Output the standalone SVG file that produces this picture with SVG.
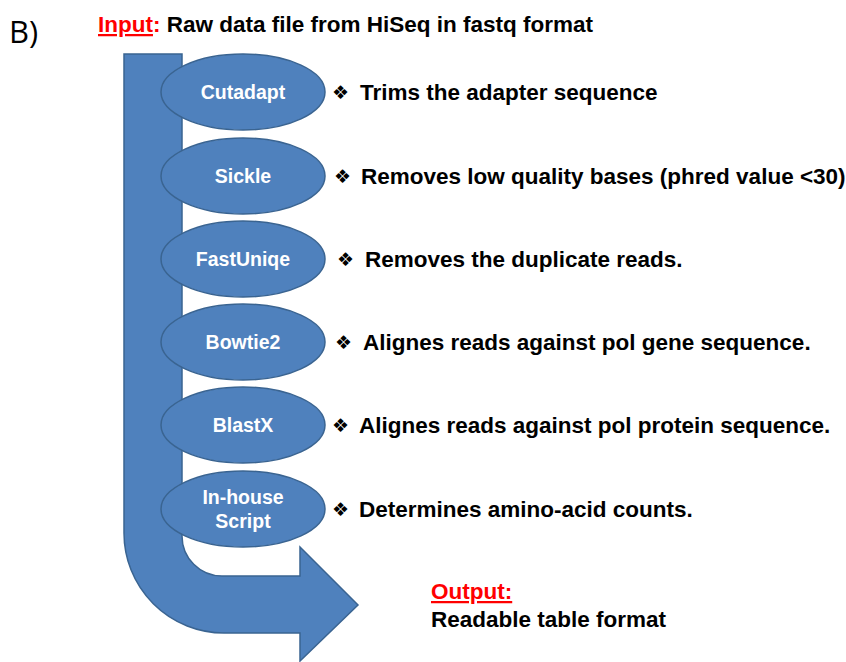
<svg xmlns="http://www.w3.org/2000/svg" width="846" height="662" viewBox="0 0 846 662">
<style>
.shape{fill:#4F81BD;stroke:#3A6491;stroke-width:1.5}
.nl{font-family:"Liberation Sans",Arial,sans-serif;font-weight:bold;font-size:19.5px;fill:#fff;text-anchor:middle}
.desc{font-family:"Liberation Sans",Arial,sans-serif;font-weight:bold;font-size:22.5px;fill:#000}
.bul{font-family:"DejaVu Sans",sans-serif;font-size:19px;fill:#000}
.red{fill:#FF0000;text-decoration:underline}
</style>
<rect width="846" height="662" fill="#fff"/>
<text x="9" y="43" font-family="Open Sans, Liberation Sans, sans-serif" font-size="31" fill="#000">B)</text>
<text x="98" y="32" class="desc"><tspan class="red">Input</tspan><tspan fill="#FF0000">:</tspan> Raw data file from HiSeq in fastq format</text>
<g id="flow-arrow">
<path class="shape" d="M124,54 H182 V536 A40,40 0 0 0 222,576 H300 V547 L358,605 L300,661 V633 H224 A100,100 0 0 1 124,533 Z"/>
</g>
<g id="cutadapt"><ellipse class="shape" cx="243" cy="92" rx="82" ry="38"/><text class="nl" x="243" y="99">Cutadapt</text></g>
<g id="sickle"><ellipse class="shape" cx="243" cy="176" rx="82" ry="38"/><text class="nl" x="243" y="183">Sickle</text></g>
<g id="fastuniqe"><ellipse class="shape" cx="243" cy="259" rx="82" ry="38"/><text class="nl" x="243" y="266">FastUniqe</text></g>
<g id="bowtie2"><ellipse class="shape" cx="243" cy="342" rx="82" ry="38"/><text class="nl" x="243" y="349">Bowtie2</text></g>
<g id="blastx"><ellipse class="shape" cx="243" cy="425" rx="82" ry="38"/><text class="nl" x="243" y="432">BlastX</text></g>
<g id="inhouse"><ellipse class="shape" cx="243" cy="509" rx="82" ry="38"/><text class="nl" x="243" y="504">In-house</text><text class="nl" x="243" y="528">Script</text></g>
<g id="descriptions">
<text class="bul" x="332" y="99">❖</text><text class="desc" x="360" y="100">Trims the adapter sequence</text>
<text class="bul" x="334" y="183">❖</text><text class="desc" x="361" y="184">Removes low quality bases (phred value &lt;30)</text>
<text class="bul" x="337" y="266">❖</text><text class="desc" x="365" y="267">Removes the duplicate reads.</text>
<text class="bul" x="335" y="349">❖</text><text class="desc" x="363" y="350">Alignes reads against pol gene sequence.</text>
<text class="bul" x="332" y="432">❖</text><text class="desc" x="359" y="433">Alignes reads against pol protein sequence.</text>
<text class="bul" x="332" y="516">❖</text><text class="desc" x="359" y="517">Determines amino-acid counts.</text>
</g>
<text class="desc" x="431" y="599"><tspan class="red">Output: </tspan></text>
<text class="desc" x="431" y="627">Readable table format</text>
</svg>
